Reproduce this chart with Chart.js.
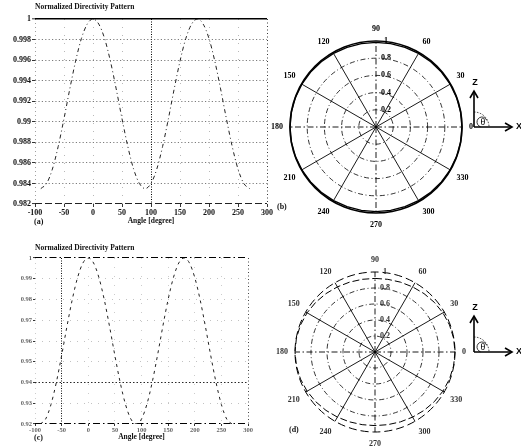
<!DOCTYPE html>
<html>
<head>
<meta charset="utf-8">
<script src="https://cdn.jsdelivr.net/npm/chart.js@4.4.1/dist/chart.umd.min.js"></script>
<style>
  html, body { margin: 0; padding: 0; background: #fff; }
  body { width: 521px; height: 446px; position: relative; overflow: hidden; }
  canvas { position: absolute; }
  .tag { position: absolute; font: bold 8px "Liberation Serif", serif; color: #111; }
</style>
</head>
<body>
<canvas id="chartA" width="280" height="226" style="left:0;top:0"></canvas>
<canvas id="chartB" width="255" height="216" style="left:266px;top:18px"></canvas>
<canvas id="chartC" width="262" height="202" style="left:0;top:240px"></canvas>
<canvas id="chartD" width="255" height="205" style="left:266px;top:246px"></canvas>
<div class="tag" style="left:34px;top:217px">(a)</div>
<div class="tag" style="left:277px;top:202px">(b)</div>
<div class="tag" style="left:34px;top:433px">(c)</div>
<div class="tag" style="left:289px;top:425px">(d)</div>
<script>
// angle in degrees, -90 .. 270 every 10
const angleDeg = [-90, -80, -70, -60, -50, -40, -30, -20, -10, 0, 10, 20, 30, 40, 50, 60, 70, 80, 90,
    100, 110, 120, 130, 140, 150, 160, 170, 180, 190, 200, 210, 220, 230, 240, 250, 260, 270];

// normalized directivity, panel (a)/(b)
const patternA = [0.9835, 0.9840, 0.9854, 0.9876, 0.9903, 0.9932, 0.9959, 0.9981, 0.9995, 1.0000,
    0.9995, 0.9981, 0.9959, 0.9932, 0.9903, 0.9876, 0.9854, 0.9840, 0.9835,
    0.9840, 0.9854, 0.9876, 0.9903, 0.9932, 0.9959, 0.9981, 0.9995, 1.0000,
    0.9995, 0.9981, 0.9959, 0.9932, 0.9903, 0.9876, 0.9854, 0.9840, 0.9835];

// normalized directivity, panel (c)/(d)
const patternC = [0.9200, 0.9224, 0.9294, 0.9400, 0.9530, 0.9670, 0.9800, 0.9906, 0.9976, 1.0000,
    0.9976, 0.9906, 0.9800, 0.9670, 0.9530, 0.9400, 0.9294, 0.9224, 0.9200,
    0.9224, 0.9294, 0.9400, 0.9530, 0.9670, 0.9800, 0.9906, 0.9976, 1.0000,
    0.9976, 0.9906, 0.9800, 0.9670, 0.9530, 0.9400, 0.9294, 0.9224, 0.9200];

const xTicks = [-100, -50, 0, 50, 100, 150, 200, 250, 300];
const yTicksA = [0.982, 0.984, 0.986, 0.988, 0.99, 0.992, 0.994, 0.996, 0.998, 1];
const yTicksC = [0.92, 0.93, 0.94, 0.95, 0.96, 0.97, 0.98, 0.99, 1];

// polar labels, clockwise from the top (radar order)
const polarAngles = [90, 80, 70, 60, 50, 40, 30, 20, 10, 0, 350, 340, 330, 320, 310, 300, 290, 280,
    270, 260, 250, 240, 230, 220, 210, 200, 190, 180, 170, 160, 150, 140, 130, 120, 110, 100];
const radialTicks = [0, 0.2, 0.4, 0.6, 0.8, 1];

const serif = '"Liberation Serif", "Times New Roman", serif';
const tickVal = c => (c.tick ? c.tick.value : null);

function toPolar(series) {
    return polarAngles.map(a => series[angleDeg.indexOf(a > 270 ? a - 360 : a)]);
}

const coordIcon = {
    id: 'coordIcon',
    afterDraw(chart, args, opts) {
        const ctx = chart.ctx;
        const x = opts.x, y = opts.y;
        ctx.save();
        ctx.strokeStyle = '#000';
        ctx.fillStyle = '#000';
        ctx.lineWidth = 1.6;
        ctx.beginPath();
        ctx.moveTo(x, y); ctx.lineTo(x, y - 35);
        ctx.moveTo(x, y); ctx.lineTo(x + 37, y);
        ctx.stroke();
        ctx.beginPath();
        ctx.moveTo(x - 4, y - 29); ctx.lineTo(x, y - 36); ctx.lineTo(x + 4, y - 29);
        ctx.moveTo(x + 31, y - 4); ctx.lineTo(x + 38, y); ctx.lineTo(x + 31, y + 4);
        ctx.stroke();
        ctx.lineWidth = 0.8;
        ctx.setLineDash([1.5, 1.5]);
        ctx.beginPath();
        ctx.arc(x, y, 15, -Math.PI / 2, 0);
        ctx.stroke();
        ctx.setLineDash([]);
        ctx.beginPath();
        ctx.ellipse(x + 8, y - 5, 5, 5, 0, Math.PI * 0.6, Math.PI * 1.9);
        ctx.stroke();
        ctx.textAlign = 'center';
        ctx.textBaseline = 'middle';
        ctx.font = 'bold 9px "Liberation Sans", sans-serif';
        ctx.fillText('Z', x + 1, y - 44);
        ctx.fillText('X', x + 45, y);
        ctx.font = '10px ' + serif;
        ctx.fillText('θ', x + 9, y - 5);
        ctx.restore();
    }
};

function lineChart(id, series, yTicks, o) {
    return new Chart(document.getElementById(id), {
        type: 'line',
        data: {
            datasets: [{
                data: angleDeg.map((a, i) => ({ x: a, y: series[i] })),
                borderColor: '#222',
                borderWidth: 1,
                borderDash: o.dash,
                pointRadius: 0,
                fill: false,
                cubicInterpolationMode: 'monotone'
            }]
        },
        options: {
            responsive: false,
            animation: false,
            layout: { padding: { right: o.padRight } },
            plugins: {
                legend: { display: false },
                tooltip: { enabled: false },
                title: {
                    display: true,
                    text: 'Normalized Directivity Pattern',
                    align: 'start',
                    fullSize: false,
                    color: '#111',
                    font: { family: serif, size: 7.5, weight: 'bold', lineHeight: 1.2 },
                    padding: o.titlePad
                }
            },
            scales: {
                x: {
                    type: 'linear',
                    min: -100,
                    max: 300,
                    afterBuildTicks: s => { s.ticks = xTicks.map(v => ({ value: v })); },
                    afterFit: s => { s.height = o.xHeight; },
                    ticks: { color: o.tickColor, font: { family: serif, size: o.tickSize, weight: 'bold' }, padding: o.tickPad, maxRotation: 0 },
                    grid: {
                        color: c => o.xGrid(tickVal(c))[0],
                        lineWidth: c => o.xGrid(tickVal(c))[1],
                        tickColor: '#000',
                        tickWidth: 0.8,
                        tickLength: o.tickLen
                    },
                    border: { display: false, dash: c => o.xGrid(tickVal(c))[2] },
                    title: { display: true, text: 'Angle [degree]', color: '#111', font: { family: serif, size: 7.5, weight: 'bold' }, padding: 0 }
                },
                y: {
                    min: yTicks[0],
                    max: yTicks[yTicks.length - 1],
                    afterBuildTicks: s => { s.ticks = yTicks.map(v => ({ value: v })); },
                    afterFit: s => { s.width = 35; },
                    ticks: {
                        color: o.tickColor,
                        font: { family: serif, size: o.tickSize, weight: 'bold' },
                        padding: 1,
                        callback: v => String(Number(v.toFixed(3)))
                    },
                    grid: {
                        color: c => o.yGrid(tickVal(c))[0],
                        lineWidth: c => o.yGrid(tickVal(c))[1],
                        tickColor: '#000',
                        tickWidth: 0.8,
                        tickLength: o.tickLen
                    },
                    border: { display: false, dash: c => o.yGrid(tickVal(c))[2] }
                }
            }
        }
    });
}

function polarChart(id, series, o) {
    return new Chart(document.getElementById(id), {
        type: 'radar',
        data: {
            labels: polarAngles.map(String),
            datasets: [{
                data: toPolar(series),
                borderColor: '#000',
                borderWidth: o.lineWidth,
                borderDash: o.lineDash,
                pointRadius: 0,
                fill: false
            }]
        },
        options: {
            responsive: false,
            animation: false,
            layout: { padding: o.pad },
            plugins: {
                legend: { display: false },
                tooltip: { enabled: false },
                coordIcon: o.icon
            },
            scales: {
                r: {
                    min: 0,
                    max: 1,
                    afterBuildTicks: s => { s.ticks = radialTicks.map(v => ({ value: v })); },
                    ticks: {
                        showLabelBackdrop: false,
                        backdropPadding: 0,
                        color: o.textColor,
                        font: { family: serif, size: 8, weight: 'bold' },
                        callback: v => ' '.repeat(10) + String(Number(v.toFixed(1))),
                        z: 1
                    },
                    grid: {
                        circular: true,
                        color: '#000',
                        lineWidth: c => (c.index === 5 ? o.outerWidth : 0.8)
                    },
                    border: { dash: c => (c.index === 5 ? o.outerDash : [5, 2.5, 1, 2.5]) },
                    angleLines: {
                        color: '#000',
                        lineWidth: c => (polarAngles[c.index] % 30 === 0 ? 0.9 : 0),
                        borderDash: c => (polarAngles[c.index] % 90 === 0 ? [6, 2.5, 1.5, 2.5] : [])
                    },
                    pointLabels: {
                        color: o.textColor,
                        padding: 3,
                        font: { family: serif, size: 8, weight: 'bold' },
                        callback: label => (Number(label) % 30 === 0 ? label : '')
                    }
                }
            }
        },
        plugins: [coordIcon]
    });
}

lineChart('chartA', patternA, yTicksA, {
    dash: [4, 3, 1, 3],
    padRight: 13,
    titlePad: { top: 3, bottom: 7 },
    xHeight: 22,
    tickColor: '#111',
    tickSize: 8,
    tickPad: 1,
    tickLen: 3,
    xGrid: v => v === 100 ? ['#000', 1, [1, 1.5]] : v === 300 ? ['#222', 0.9, [1, 2.5]] :
        v === -100 ? ['#777', 0.7, [1, 3]] : ['#999', 0.7, [1, 7]],
    yGrid: v => v === 1 ? ['#000', 1.6, []] : v === 0.982 ? ['#222', 1.1, [7, 3]] : ['#444', 0.7, [1.2, 2.2]]
});

lineChart('chartC', patternC, yTicksC, {
    dash: [3, 4],
    padRight: 14,
    titlePad: { top: 4, bottom: 5 },
    xHeight: 18,
    tickColor: '#666',
    tickSize: 6.5,
    tickPad: 0,
    tickLen: 2,
    xGrid: v => v === -50 ? ['#111', 1, [1, 1.5]] : v === 300 ? ['#333', 0.9, [1, 2.5]] :
        v === -100 ? ['#aaa', 0.6, [1, 4]] : ['#aaa', 0.6, [1, 8]],
    yGrid: v => (v === 1 || v === 0.92) ? ['#000', 1.1, [7, 3, 1.5, 3]] : v === 0.94 ? ['#111', 0.9, [1.5, 2]] : ['#999', 0.6, [1, 6]]
});

polarChart('chartB', patternA, {
    lineWidth: 1.4,
    lineDash: [],
    outerWidth: 1.6,
    outerDash: [],
    textColor: '#000',
    pad: { left: 1, right: 44, top: 6.4, bottom: 4.4 },
    icon: { x: 474 - 266, y: 127 - 18 }
});

polarChart('chartD', patternC, {
    lineWidth: 1,
    lineDash: [7, 3],
    outerWidth: 1,
    outerDash: [8, 4],
    textColor: '#333',
    pad: { left: 6, right: 51, top: 9.4, bottom: 2.4 },
    icon: { x: 474 - 266, y: 352 - 246 }
});
</script>
</body>
</html>
